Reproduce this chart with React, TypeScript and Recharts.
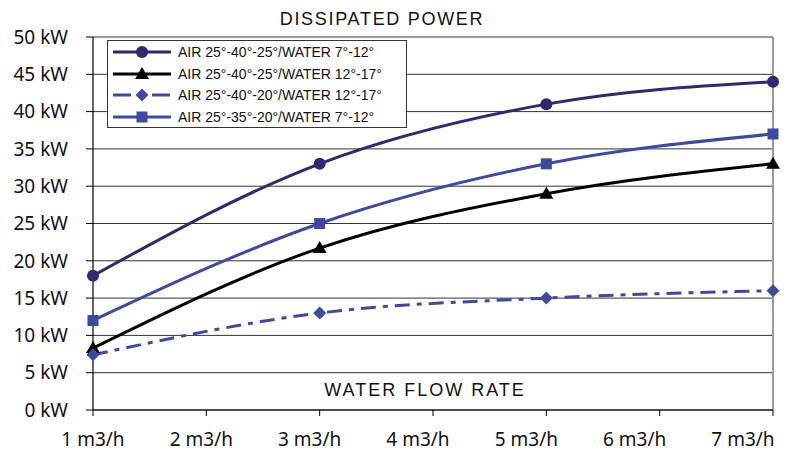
import React from 'react';
import { LineChart, Line, XAxis, YAxis, CartesianGrid, ReferenceLine } from 'recharts';

const flowRates = [1, 3, 5, 7];
const air40_25_w7_12 = [18, 33, 41, 44];
const air40_25_w12_17 = [8.3, 21.7, 29, 33];
const air40_20_w12_17 = [7.4, 13, 15, 16];
const air35_20_w7_12 = [12, 25, 33, 37];
const xTicks = [1, 2, 3, 4, 5, 6, 7];
const yTicks = [0, 5, 10, 15, 20, 25, 30, 35, 40, 45, 50];

const seriesNames = [
  'AIR 25°-40°-25°/WATER 7°-12°',
  'AIR 25°-40°-25°/WATER 12°-17°',
  'AIR 25°-40°-20°/WATER 12°-17°',
  'AIR 25°-35°-20°/WATER 7°-12°',
];

const data = flowRates.map((x, i) => ({
  x,
  s1: air40_25_w7_12[i],
  s2: air40_25_w12_17[i],
  s3: air40_20_w12_17[i],
  s4: air35_20_w7_12[i],
}));

const PURPLE = '#2f2a6e';
const BLUE = '#3d4a9f';
const BLACK = '#000000';

type Shape = 'circle' | 'triangle' | 'diamond' | 'square';

const Marker = ({ cx, cy, shape, color }: { cx: number; cy: number; shape: Shape; color: string }) => {
  if (cx == null || cy == null) return null;
  if (shape === 'circle') return <circle cx={cx} cy={cy} r={6} fill={color} />;
  if (shape === 'triangle')
    return <polygon points={`${cx},${cy - 7} ${cx + 7},${cy + 5} ${cx - 7},${cy + 5}`} fill={color} />;
  if (shape === 'diamond')
    return <polygon points={`${cx},${cy - 6.5} ${cx + 6.5},${cy} ${cx},${cy + 6.5} ${cx - 6.5},${cy}`} fill={color} />;
  return <rect x={cx - 5.5} y={cy - 5.5} width={11} height={11} fill={color} />;
};

const series = [
  { key: 's1', name: seriesNames[0], color: PURPLE, shape: 'circle' as Shape, dash: undefined },
  { key: 's2', name: seriesNames[1], color: BLACK, shape: 'triangle' as Shape, dash: undefined },
  { key: 's3', name: seriesNames[2], color: BLUE, shape: 'diamond' as Shape, dash: '15 7 5 7' },
  { key: 's4', name: seriesNames[3], color: BLUE, shape: 'square' as Shape, dash: undefined },
];

const LegendBox = () => (
  <div
    style={{
      position: 'absolute',
      left: 107,
      top: 40,
      width: 300,
      height: 88,
      border: '1px solid #333',
      background: '#fff',
      boxSizing: 'border-box',
    }}
  >
    {series.map((s) => (
      <div key={s.key} style={{ display: 'flex', alignItems: 'center', height: 21.8 }}>
        <svg width={70} height={20} style={{ flex: 'none' }}>
          <line x1={5} y1={10} x2={63} y2={10} stroke={s.color} strokeWidth={3} strokeDasharray={s.dash ? '18 8 5 8' : undefined} />
          <Marker cx={34} cy={10} shape={s.shape} color={s.color} />
        </svg>
        <span
          style={{
            fontFamily: '"Liberation Sans", Arial, sans-serif',
            fontSize: 14,
            color: '#111',
            whiteSpace: 'nowrap',
          }}
        >
          {s.name}
        </span>
      </div>
    ))}
  </div>
);

const tickFont = { fontFamily: '"Noto Sans", sans-serif', fontSize: 19, fill: '#111' };

const XTick = (props: any) => {
  const { x, y, payload } = props;
  const v = payload.value as number;
  const shift = -(v - 1) * 5;
  return (
    <text x={x + shift} y={y} dy="0.71em" textAnchor="middle" {...tickFont}>
      {`${v} m3/h`}
    </text>
  );
};

export default function App() {
  return (
    <div style={{ position: 'absolute', left: 0, top: 0, width: 790, height: 452, background: '#fff' }}>
      <LineChart width={790} height={452} data={data} margin={{ top: 37, right: 17, bottom: 0, left: 8 }}>
        <CartesianGrid vertical={false} stroke="#333" strokeWidth={1} />
        <XAxis
          dataKey="x"
          type="number"
          domain={[1, 7]}
          ticks={xTicks}
          tick={<XTick />}
          tickSize={6}
          tickMargin={17}
          height={42}
          axisLine={{ stroke: '#000', strokeWidth: 1.2 }}
          tickLine={{ stroke: '#000' }}
          interval={0}
          padding={{ left: 0, right: 0 }}
        />
        <YAxis
          type="number"
          domain={[0, 50]}
          ticks={yTicks}
          tickFormatter={(v: number) => `${v} kW`}
          tick={tickFont}
          tickSize={7}
          tickMargin={18}
          width={85}
          axisLine={{ stroke: '#000', strokeWidth: 1.2 }}
          tickLine={{ stroke: '#000' }}
          interval={0}
        />
        <ReferenceLine y={50} stroke="#999" strokeWidth={2} />
        <ReferenceLine x={7} stroke="#999" strokeWidth={2} />
        {series.map((s) => (
          <Line
            key={s.key}
            type="monotone"
            dataKey={s.key}
            name={s.name}
            stroke={s.color}
            strokeWidth={3}
            strokeDasharray={s.dash}
            dot={(p: any) => <Marker key={`${s.key}-${p.index}`} cx={p.cx} cy={p.cy} shape={s.shape} color={s.color} />}
            activeDot={false}
            isAnimationActive={false}
          />
        ))}
      </LineChart>
      <LegendBox />
      <div
        style={{
          position: 'absolute',
          left: 232,
          width: 300,
          top: 9,
          textAlign: 'center',
          fontFamily: '"Liberation Sans", Arial, sans-serif',
          fontSize: 18,
          letterSpacing: 1.7,
          color: '#111',
          whiteSpace: 'nowrap',
        }}
      >
        DISSIPATED POWER
      </div>
      <div
        style={{
          position: 'absolute',
          left: 275,
          width: 300,
          top: 380,
          textAlign: 'center',
          fontFamily: '"Liberation Sans", Arial, sans-serif',
          fontSize: 18,
          letterSpacing: 2,
          color: '#111',
          whiteSpace: 'nowrap',
        }}
      >
        WATER FLOW RATE
      </div>
    </div>
  );
}
